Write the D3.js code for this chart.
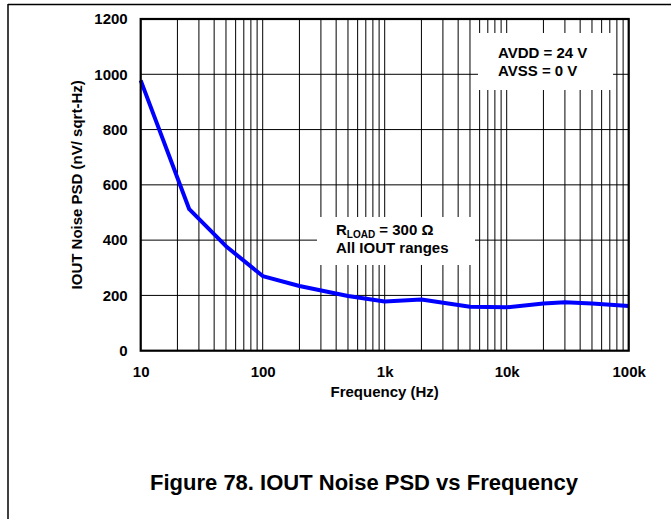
<!DOCTYPE html>
<html>
<head>
<meta charset="utf-8">
<script src="https://cdn.jsdelivr.net/npm/d3@7"></script>
<style>
  html, body { margin: 0; padding: 0; background: #fff; overflow: hidden; }
  svg { display: block; }
  text { font-family: "Liberation Sans", Arial, Helvetica, sans-serif; font-weight: bold; fill: #000; }
</style>
</head>
<body>
<svg id="chart" width="671" height="519"></svg>
<script>
// ---- data ----
const frequency = [10, 25, 50, 100, 200, 500, 1000, 2000, 5000, 10000, 20000, 30000, 50000, 100000];
const noisePSD  = [978, 512, 378, 270, 234, 198, 178, 185, 159, 157, 171, 175, 171, 162];
const xTickValues = [10, 100, 1000, 10000, 100000];
const xTickLabels = ["10", "100", "1k", "10k", "100k"];
const yTickValues = [0, 200, 400, 600, 800, 1000, 1200];
const yTickLabels = ["0", "200", "400", "600", "800", "1000", "1200"];
const xTitle = "Frequency (Hz)";
const yTitle = "IOUT Noise PSD (nV/ sqrt-Hz)";
const caption = "Figure 78. IOUT Noise PSD vs Frequency";
const noteSupply = ["AVDD = 24 V", "AVSS = 0 V"];
const noteLoad = ["All IOUT ranges"];

// ---- layout ----
const svg = d3.select("#chart");
const L = 140.7, R = 628.7, T = 19, B = 350.7;
const x = d3.scaleLog().domain([10, 100000]).range([L, R]);
const y = d3.scaleLinear().domain([0, 1200]).range([B, T]);

// page frame (top and left rules)
svg.append("line").attr("x1", 8).attr("x2", 671).attr("y1", 4.5).attr("y2", 4.5)
  .attr("stroke", "#000").attr("stroke-width", 1.5);
svg.append("line").attr("x1", 8).attr("x2", 8).attr("y1", 4).attr("y2", 519)
  .attr("stroke", "#000").attr("stroke-width", 1.5);

// grid
const minorTicks = [];
for (let d = 10; d < 100000; d *= 10) for (let m = 1; m <= 9; m++) minorTicks.push(d * m);
minorTicks.push(100000);
const grid = svg.append("g");
grid.selectAll("line.v").data(minorTicks).join("line")
  .attr("x1", d => x(d)).attr("x2", d => x(d)).attr("y1", T).attr("y2", B)
  .attr("stroke", "#000").attr("stroke-width", 1);
grid.selectAll("line.h").data(yTickValues.slice(1, -1)).join("line")
  .attr("x1", L).attr("x2", R).attr("y1", d => y(d)).attr("y2", d => y(d))
  .attr("stroke", "#000").attr("stroke-width", 1);

// annotation boxes (white backgrounds)
svg.append("rect").attr("x", 478).attr("y", 33).attr("width", 135).attr("height", 57).attr("fill", "#fff");
svg.append("rect").attr("x", 317).attr("y", 217).attr("width", 158).attr("height", 48).attr("fill", "#fff");

// curve
const line = d3.line().x(d => x(d[0])).y(d => y(d[1]));
svg.append("path")
  .datum(frequency.map((f, i) => [f, noisePSD[i]]))
  .attr("d", line)
  .attr("fill", "none").attr("stroke", "#0000ff").attr("stroke-width", 4)
  .attr("stroke-linejoin", "round");

// frame
svg.append("rect").attr("x", L).attr("y", T).attr("width", R - L).attr("height", B - T)
  .attr("fill", "none").attr("stroke", "#000").attr("stroke-width", 2.2);

// axes labels
const xAxis = svg.append("g").attr("transform", `translate(0,${B})`)
  .call(d3.axisBottom(x).tickValues(xTickValues).tickFormat((d, i) => xTickLabels[i]).tickSize(0).tickPadding(16));
xAxis.select(".domain").remove();
xAxis.selectAll("text").attr("font-size", 15).attr("font-family", null).attr("fill", "#000");

const yAxis = svg.append("g").attr("transform", `translate(${L},0)`)
  .call(d3.axisLeft(y).tickValues(yTickValues).tickFormat((d, i) => yTickLabels[i]).tickSize(0).tickPadding(13));
yAxis.select(".domain").remove();
yAxis.selectAll("text").attr("font-size", 15).attr("font-family", null).attr("fill", "#000");

svg.append("text").attr("x", (L + R) / 2).attr("y", 397).attr("text-anchor", "middle")
  .attr("font-size", 15).text(xTitle);
svg.append("text").attr("transform", `translate(82,${(T + B) / 2}) rotate(-90)`)
  .attr("text-anchor", "middle").attr("font-size", 15).text(yTitle);

// notes
svg.append("text").attr("x", 498).attr("y", 58).attr("font-size", 15).text(noteSupply[0]);
svg.append("text").attr("x", 498).attr("y", 76).attr("font-size", 15).text(noteSupply[1]);
const t1 = svg.append("text").attr("x", 336).attr("y", 235).attr("font-size", 15);
t1.append("tspan").text("R");
t1.append("tspan").attr("font-size", 10).attr("dy", 3).text("LOAD");
t1.append("tspan").attr("dy", -3).text(" = 300 Ω");
svg.append("text").attr("x", 336).attr("y", 253).attr("font-size", 15).text(noteLoad[0]);

// caption
svg.append("text").attr("x", 364).attr("y", 490).attr("text-anchor", "middle")
  .attr("font-size", 22).text(caption);
</script>
</body>
</html>
